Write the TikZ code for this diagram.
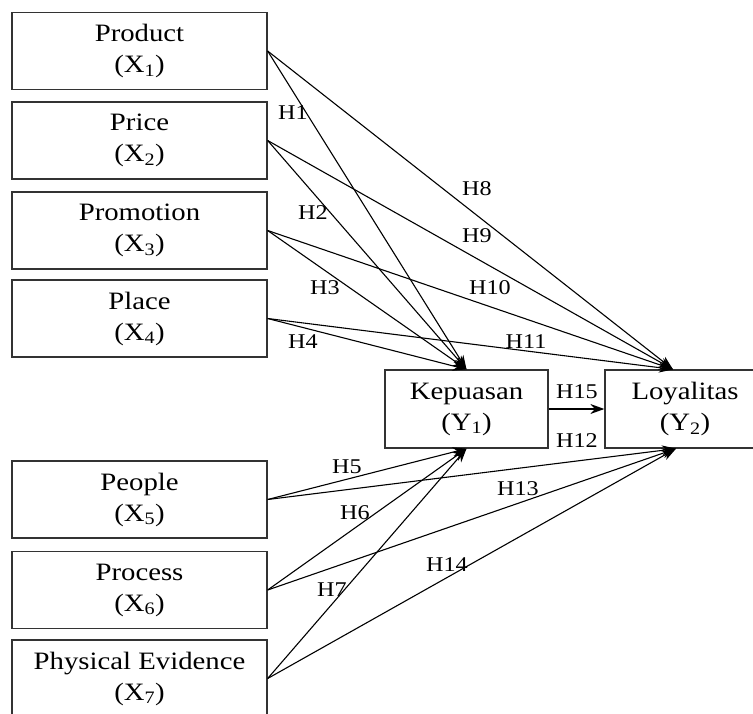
\documentclass[tikz,border=0pt]{standalone}
\usepackage{fontspec}
\setmainfont{Liberation Serif}[FakeStretch=1.15]
\usetikzlibrary{arrows.meta}

\begin{document}
\begin{tikzpicture}[x=1pt, y=-1pt,
		var/.style={draw=black!80, line width=1.3pt, minimum width=255pt, minimum height=77pt, align=center, inner sep=0pt, font=\fontsize{25}{31}\selectfont},
		hyp/.style={inner sep=0pt, font=\fontsize{21}{21}\selectfont},
		link/.style={line width=1.1pt, -{Stealth[length=14pt, width=10pt]}}]
		\path[use as bounding box, clip] (0, 0) rectangle (753, 713);
		
		% variabel bebas
		\node[var] (prod) at (139.5, 51) {Product\\(X\textsubscript{1})};
		\node[var] (price) at (139.5, 140.5) {Price\\(X\textsubscript{2})};
		\node[var] (promo) at (139.5, 230.5) {Promotion\\(X\textsubscript{3})};
		\node[var] (place) at (139.5, 318.5) {Place\\(X\textsubscript{4})};
		\node[var] (people) at (139.5, 499.5) {People\\(X\textsubscript{5})};
		\node[var] (proc) at (139.5, 590) {Process\\(X\textsubscript{6})};
		\node[var] (phys) at (139.5, 678.5) {Physical Evidence\\(X\textsubscript{7})};
		
		% variabel terikat
		\node[var, minimum width=163pt, minimum height=78pt] (kep) at (466.5, 409) {Kepuasan\\(Y\textsubscript{1})};
		\node[var, minimum width=160pt, minimum height=78pt] (loy) at (685, 409) {Loyalitas\\(Y\textsubscript{2})};
		\coordinate (loyN) at ([xshift=-12pt]loy.north);
		\coordinate (loyS) at ([xshift=-9pt]loy.south);
		
		\draw[link] (prod.east) -- (kep.north);
		\draw[link] (price.east) -- (kep.north);
		\draw[link] (promo.east) -- (kep.north);
		\draw[link] (place.east) -- (kep.north);
		\draw[link] (prod.east) -- (loyN);
		\draw[link] (price.east) -- (loyN);
		\draw[link] (promo.east) -- (loyN);
		\draw[link] (place.east) -- (loyN);
		
		\draw[link] (people.east) -- (kep.south);
		\draw[link] (proc.east) -- (kep.south);
		\draw[link] (phys.east) -- (kep.south);
		\draw[link] (people.east) -- (loyS);
		\draw[link] (proc.east) -- (loyS);
		\draw[link] (phys.east) -- (loyS);
		
		\draw[link] (kep.east) -- (loy.west);
		
		\node[hyp] (h1) at (293, 113) {H1};
		\node[hyp] (h2) at (313, 213) {H2};
		\node[hyp] (h3) at (325, 288) {H3};
		\node[hyp] (h4) at (303, 342) {H4};
		\node[hyp] (h5) at (347, 467) {H5};
		\node[hyp] (h6) at (355, 513) {H6};
		\node[hyp] (h7) at (332, 590) {H7};
		\node[hyp] (h8) at (477, 189) {H8};
		\node[hyp] (h9) at (477, 236) {H9};
		\node[hyp] (h10) at (490, 288) {H10};
		\node[hyp] (h11) at (526, 342) {H11};
		\node[hyp] (h12) at (577, 441) {H12};
		\node[hyp] (h13) at (518, 489) {H13};
		\node[hyp] (h14) at (447, 565) {H14};
		\node[hyp] (h15) at (577, 392) {H15};
	\end{tikzpicture}
\end{document}
